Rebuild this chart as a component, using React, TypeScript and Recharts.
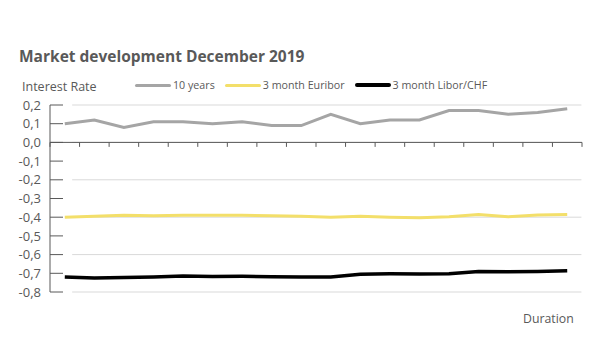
import { Line, LineChart, ReferenceLine, XAxis, YAxis } from 'recharts';

const days = [
  '2 Dec', '3 Dec', '4 Dec', '5 Dec', '6 Dec', '9 Dec', '10 Dec', '11 Dec', '12 Dec',
  '13 Dec', '16 Dec', '17 Dec', '18 Dec', '19 Dec', '20 Dec', '23 Dec', '27 Dec', '30 Dec',
];
const tenYears = [0.1, 0.12, 0.08, 0.11, 0.11, 0.1, 0.11, 0.09, 0.09, 0.15, 0.1, 0.12, 0.12, 0.17, 0.17, 0.15, 0.16, 0.18];
const euribor = [-0.4, -0.395, -0.39, -0.392, -0.39, -0.39, -0.39, -0.392, -0.395, -0.4, -0.395, -0.4, -0.403, -0.398, -0.385, -0.398, -0.388, -0.385];
const libor = [-0.72, -0.725, -0.722, -0.72, -0.715, -0.717, -0.716, -0.718, -0.72, -0.72, -0.705, -0.703, -0.704, -0.702, -0.69, -0.692, -0.69, -0.686];
const yTicks = [0.2, 0.1, 0, -0.1, -0.2, -0.3, -0.4, -0.5, -0.6, -0.7, -0.8];
const gridValues = [0.2, 0, -0.2, -0.4, -0.6, -0.8];

const series = [
  { key: 'tenYears', name: '10 years', color: '#a5a5a5', width: 3 },
  { key: 'euribor', name: '3 month Euribor', color: '#f3df6a', width: 3 },
  { key: 'libor', name: '3 month Libor/CHF', color: '#000000', width: 3.5 },
];

const rows = days.map((day, i) => ({
  day,
  x: i + 0.5,
  tenYears: tenYears[i],
  euribor: euribor[i],
  libor: libor[i],
}));

const categoryEdges = [...days.map((_, i) => i), days.length];

const font = '"Open Sans", sans-serif';
const textColor = '#595959';

function ChartLegend() {
  return (
    <div
      style={{
        position: 'absolute', left: 135, top: 78, display: 'flex', gap: 10, alignItems: 'center',
        fontFamily: font, fontSize: 10.7, color: textColor, whiteSpace: 'nowrap',
      }}
    >
      {series.map((s) => (
        <div key={s.key} style={{ display: 'flex', alignItems: 'center' }}>
          <span style={{ display: 'inline-block', width: 36, height: s.width, background: s.color, borderRadius: 2, marginRight: 2 }} />
          <span>{s.name}</span>
        </div>
      ))}
    </div>
  );
}

export default function App() {
  return (
    <div style={{ position: 'absolute', left: 0, top: 0, width: 600, height: 361, background: '#fff' }}>
      <div style={{ position: 'absolute', left: 19, top: 45, fontFamily: font, fontWeight: 700, fontSize: 15.5, color: textColor }}>
        Market development December 2019
      </div>
      <div style={{ position: 'absolute', left: 22, top: 78, fontFamily: font, fontSize: 12.5, color: textColor }}>
        Interest Rate
      </div>
      <div style={{ position: 'absolute', left: 523, top: 310, fontFamily: font, fontSize: 12.3, color: textColor }}>
        Duration
      </div>
      <ChartLegend />
      <LineChart data={rows} height={361} margin={{ bottom: 69, left: 0, right: 18, top: 105 }} width={600}>
        <XAxis dataKey="x" domain={[0, days.length]} hide type="number" />
        <YAxis
          axisLine={{ stroke: textColor }}
          domain={[-0.8, 0.2]}
          interval={0}
          tick={{ fill: textColor, fontFamily: font, fontSize: 13 }}
          tickFormatter={(v: number) => v.toFixed(1).replace('.', ',').replace('-0,0', '0,0')}
          tickLine={{ stroke: textColor }}
          tickMargin={22}
          tickSize={-13}
          ticks={yTicks}
          type="number"
          width={50}
        />
        {gridValues.map((v) => (
          <ReferenceLine
            key={`g${v}`}
            segment={[{ x: 0.75, y: v }, { x: days.length - 0.02, y: v }]}
            stroke="#d9d9d9"
          />
        ))}
        <ReferenceLine stroke={textColor} y={0} />
        {categoryEdges.map((k) => (
          <ReferenceLine key={`t${k}`} segment={[{ x: k, y: 0 }, { x: k, y: -0.024 }]} stroke={textColor} />
        ))}
        {series.map((s) => (
          <Line
            dataKey={s.key}
            dot={false}
            isAnimationActive={false}
            key={s.key}
            name={s.name}
            stroke={s.color}
            strokeWidth={s.width}
            type="linear"
          />
        ))}
      </LineChart>
    </div>
  );
}
